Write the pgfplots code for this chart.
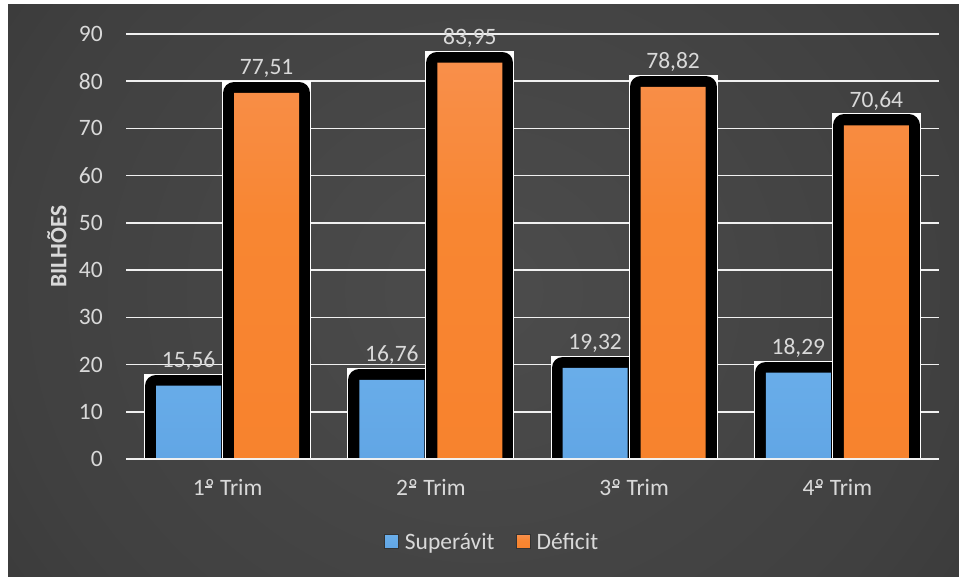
\documentclass[border=0pt]{standalone}
\usepackage{pgfplots}
\pgfplotsset{compat=1.18}
\usepackage{pgfplotstable}
\usepackage{fontspec}
\setmainfont{Carlito}
\definecolor{bgA}{HTML}{4C4C4C}
\definecolor{bgB}{HTML}{404040}
\definecolor{bgC}{HTML}{2B2B2B}
\definecolor{bgD}{HTML}{252525}
\definecolor{lbl}{HTML}{D9D9D9}
\definecolor{gridc}{HTML}{F0F0F0}
\definecolor{blueT}{HTML}{A3D2F6}
\definecolor{blueU}{HTML}{6AAEEA}
\definecolor{blueM}{HTML}{5EA3E3}
\definecolor{blueB}{HTML}{4F92D2}
\definecolor{orT}{HTML}{FBA46E}
\definecolor{orU}{HTML}{F9955A}
\definecolor{orM}{HTML}{F88632}
\definecolor{orL}{HTML}{F7802A}
\definecolor{orB}{HTML}{EE7620}
\pgfdeclareradialshading{bgrad}{\pgfpoint{0bp}{0bp}}{color(0bp)=(bgA); color(25bp)=(bgB); color(50bp)=(bgC); color(70bp)=(bgD)}
\pgfdeclareverticalshading{orshade}{100bp}{color(0bp)=(orB); color(3bp)=(orL); color(55bp)=(orM); color(88bp)=(orU); color(97bp)=(orU); color(100bp)=(orT)}
\pgfdeclareverticalshading{blshade}{100bp}{color(0bp)=(blueB); color(5bp)=(blueM); color(80bp)=(blueU); color(90bp)=(blueU); color(100bp)=(blueT)}
\newcommand\cf{\fontsize{23.5pt}{28pt}\selectfont}
\newcommand\ordo{\rlap{\kern0.02em\rule[0.33em]{0.3em}{0.055em}}º}

\pgfplotstableread{
x sup def
0 15.56 77.51
1 16.76 83.95
2 19.32 78.82
3 18.29 70.64
}\data

\begin{document}
\begin{tikzpicture}
\useasboundingbox (0,0) rectangle (959pt,576pt);
\fill[white] (0,0) rectangle (959pt,576pt);
\begin{scope}
\clip (8pt,0) rectangle (959pt,571pt);
\shade[shading=bgrad] (8pt,-150pt) rectangle (959pt,721pt);
\end{scope}
\begin{axis}[
  at={(126pt,117pt)}, anchor=south west,
  width=813pt, height=425pt, scale only axis,
  xmin=-0.5, xmax=3.5, ymin=0, ymax=90,
  ybar, bar width=65pt,
  xtick={0,1,2,3},
  xticklabels={1\ordo{} Trim,2\ordo{} Trim,3\ordo{} Trim,4\ordo{} Trim},
  ytick={0,10,...,90},
  axis line style={draw=none},
  major tick length=0pt,
  ymajorgrids, grid style={gridc, line width=1.6pt},
  tick label style={font=\cf, text=lbl},
  /pgf/number format/assume math mode=true,
  xticklabel shift=20pt, yticklabel shift=23pt,
  xticklabel style={inner sep=0pt, anchor=north},
  yticklabel style={inner sep=0pt, anchor=east},
  ylabel={BILHÕES},
  every axis y label/.style={at={(axis description cs:0,0.5)}, xshift=-69pt, rotate=90, anchor=center, font=\cf\bfseries, text=lbl},
  legend style={at={(axis description cs:0.449,-0.195)}, anchor=center, draw=none, fill=none, legend columns=2, font=\cf, text=lbl, nodes={inner sep=0pt},
    /tikz/every odd column/.append style={column sep=6pt},
    /tikz/every even column/.append style={column sep=21pt}},
  legend image code/.code={\draw[#1] (0pt,-7pt) rectangle (14pt,7pt);},
]
\addplot[forget plot, bar shift=-39pt, draw=none,
  preaction={draw=white, line width=24pt, line join=miter},
  preaction={draw=black, line width=22pt, line join=round},
  shade, shading=blshade]
  table[x=x,y=sup]{\data};
\addplot[forget plot, bar shift=39pt, draw=none,
  preaction={draw=white, line width=24pt, line join=miter},
  preaction={draw=black, line width=22pt, line join=round},
  shade, shading=orshade]
  table[x=x,y=def]{\data};
\addplot[forget plot, bar shift=-39pt, draw=none, fill=none,
  nodes near coords={\pgfmathprintnumber[fixed,fixed zerofill,precision=2,use comma]{\pgfplotspointmeta}},
  every node near coord/.append style={font=\cf, text=lbl, inner sep=0pt, anchor=south, yshift=15pt}]
  table[x=x,y=sup]{\data};
\addplot[forget plot, bar shift=39pt, draw=none, fill=none,
  nodes near coords={\pgfmathprintnumber[fixed,fixed zerofill,precision=2,use comma]{\pgfplotspointmeta}},
  every node near coord/.append style={font=\cf, text=lbl, inner sep=0pt, anchor=south, yshift=15pt}]
  table[x=x,y=def]{\data};
\draw[gridc, line width=1.6pt] (axis cs:-0.5,0) -- (axis cs:3.5,0);
\addlegendimage{shade, shading=blshade, draw=black!80, line width=1pt}
\addlegendentry{Superávit}
\addlegendimage{shade, shading=orshade, draw=black!80, line width=1pt}
\addlegendentry{Déficit}
\end{axis}
\end{tikzpicture}
\end{document}
